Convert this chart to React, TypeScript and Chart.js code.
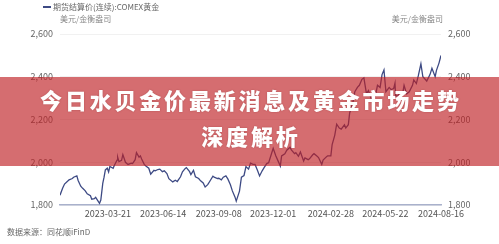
import React, { useEffect, useRef } from "react";
import { Chart, registerables } from "chart.js";

Chart.register(...registerables);

// COMEX gold, continuous settlement price (USD / troy ounce)
const dates: string[] = [
  "2023-01-06", "2023-01-10", "2023-01-13", "2023-01-18", "2023-01-20", "2023-01-25", "2023-01-27",
  "2023-02-01", "2023-02-03", "2023-02-07", "2023-02-10", "2023-02-14", "2023-02-17", "2023-02-22",
  "2023-02-24", "2023-02-28", "2023-03-02", "2023-03-08", "2023-03-10", "2023-03-13", "2023-03-15",
  "2023-03-17", "2023-03-20", "2023-03-22", "2023-03-24", "2023-03-29", "2023-03-31", "2023-04-04",
  "2023-04-05", "2023-04-07", "2023-04-11", "2023-04-13", "2023-04-17", "2023-04-21", "2023-04-26",
  "2023-04-28", "2023-05-02", "2023-05-04", "2023-05-08", "2023-05-10", "2023-05-12", "2023-05-16",
  "2023-05-19", "2023-05-23", "2023-05-26", "2023-05-31", "2023-06-02", "2023-06-06", "2023-06-09",
  "2023-06-13", "2023-06-16", "2023-06-20", "2023-06-23", "2023-06-29", "2023-07-03", "2023-07-06",
  "2023-07-11", "2023-07-14", "2023-07-18", "2023-07-20", "2023-07-25", "2023-07-27", "2023-07-31",
  "2023-08-03", "2023-08-08", "2023-08-11", "2023-08-15", "2023-08-18", "2023-08-22", "2023-08-25",
  "2023-08-30", "2023-09-01", "2023-09-06", "2023-09-08", "2023-09-12", "2023-09-15", "2023-09-19",
  "2023-09-22", "2023-09-26", "2023-09-29", "2023-10-03", "2023-10-05", "2023-10-10", "2023-10-13",
  "2023-10-17", "2023-10-20", "2023-10-24", "2023-10-27", "2023-10-31", "2023-11-03", "2023-11-07",
  "2023-11-10", "2023-11-14", "2023-11-17", "2023-11-21", "2023-11-24", "2023-11-28", "2023-12-01",
  "2023-12-05", "2023-12-08", "2023-12-12", "2023-12-14", "2023-12-19", "2023-12-22", "2023-12-27",
  "2023-12-29", "2024-01-03", "2024-01-05", "2024-01-09", "2024-01-12", "2024-01-17", "2024-01-19",
  "2024-01-24", "2024-01-26", "2024-01-31", "2024-02-02", "2024-02-06", "2024-02-09", "2024-02-14",
  "2024-02-16", "2024-02-21", "2024-02-23", "2024-02-28", "2024-03-01", "2024-03-05", "2024-03-08",
  "2024-03-12", "2024-03-15", "2024-03-20", "2024-03-22", "2024-03-26", "2024-03-28", "2024-04-02",
  "2024-04-05", "2024-04-09", "2024-04-12", "2024-04-16", "2024-04-19", "2024-04-23", "2024-04-26",
  "2024-04-30", "2024-05-03", "2024-05-07", "2024-05-10", "2024-05-14", "2024-05-17", "2024-05-20",
  "2024-05-23", "2024-05-28", "2024-05-31", "2024-06-04", "2024-06-06", "2024-06-07", "2024-06-11",
  "2024-06-14", "2024-06-18", "2024-06-20", "2024-06-24", "2024-06-28", "2024-07-03", "2024-07-05",
  "2024-07-09", "2024-07-12", "2024-07-16", "2024-07-19", "2024-07-25", "2024-07-30", "2024-08-02",
  "2024-08-07", "2024-08-09", "2024-08-13", "2024-08-16",
];

const prices: number[] = [
  1846, 1878, 1898, 1912, 1918, 1924, 1930,
  1936, 1915, 1888, 1878, 1866, 1852, 1843,
  1827, 1830, 1836, 1808, 1823, 1901, 1930,
  1964, 1972, 1955, 1980, 1972, 1986, 2010,
  2024, 2003, 2009, 2036, 2000, 1990, 1996,
  1994, 2012, 2045, 2024, 2030, 2015, 1990,
  1981, 1972, 1944, 1962, 1960, 1966, 1968,
  1956, 1960, 1947, 1923, 1908, 1916, 1910,
  1932, 1955, 1970, 1975, 1956, 1942, 1962,
  1932, 1924, 1913, 1903, 1884, 1895, 1910,
  1935, 1930, 1924, 1925, 1918, 1930, 1936,
  1922, 1895, 1866, 1838, 1818, 1865, 1930,
  1938, 1980, 1968, 1996, 1990, 1990, 1960,
  1936, 1960, 1975, 1994, 1998, 2036, 2065,
  2030, 2010, 1982, 2030, 2040, 2056, 2070,
  2058, 2040, 2045, 2028, 2048, 2006, 2020,
  2012, 2016, 2035, 2040, 2030, 2022, 1990,
  2010, 2025, 2030, 2030, 2083, 2126, 2178,
  2160, 2155, 2175, 2160, 2176, 2230, 2280,
  2330, 2350, 2360, 2388, 2395, 2320, 2335,
  2300, 2298, 2315, 2360, 2350, 2410, 2432,
  2330, 2350, 2340, 2345, 2370, 2310, 2312,
  2330, 2325, 2360, 2320, 2330, 2360, 2385,
  2368, 2405, 2460, 2400, 2380, 2410, 2440,
  2400, 2430, 2465, 2500,
];

const xTickDates: string[] = [
  "2023-03-21", "2023-06-14", "2023-09-08", "2023-12-01", "2024-02-28", "2024-05-22", "2024-08-16",
];

const yTicks: number[] = [1800, 2000, 2200, 2400, 2600];

const seriesName = "期货结算价(连续):COMEX黄金";
const unitLabel = "美元/金衡盎司";
const sourceLabel = "数据来源：同花顺iFinD";
const headline = ["今日水贝金价最新消息及黄金市场走势", "深度解析"];

const DAY = 86400000;
const toDay = (s: string) => Date.parse(s + "T00:00:00Z") / DAY;
const fromDay = (v: number) => new Date(Math.round(v) * DAY).toISOString().slice(0, 10);

const FONT = "'Noto Sans CJK SC', 'Noto Sans', sans-serif";
const LINE = "#3d4a84";

export default function App() {
  const canvasRef = useRef<HTMLCanvasElement | null>(null);

  useEffect(() => {
    if (!canvasRef.current) return;
    const points = dates.map((d, i) => ({ x: toDay(d), y: prices[i] }));
    const yTickCfg = {
      font: { family: FONT, size: 9 },
      color: "#666",
      padding: 7,
      callback: (v: number) => v.toLocaleString("en-US"),
    };
    const chart = new Chart(canvasRef.current, {
      type: "line",
      data: {
        datasets: [
          {
            label: seriesName,
            data: points,
            borderColor: LINE,
            borderWidth: 1.3,
            pointRadius: 0,
            tension: 0,
            yAxisID: "y",
          },
        ],
      },
      options: {
        animation: false,
        responsive: false,
        devicePixelRatio: 1,
        layout: { padding: { top: 34, left: 0, right: 0, bottom: 0 } },
        plugins: { legend: { display: false }, tooltip: { enabled: false } },
        scales: {
          x: {
            type: "linear",
            min: toDay(dates[0]),
            max: toDay(dates[dates.length - 1]),
            grid: { display: false, drawTicks: false },
            border: { display: true, color: "#a9b1cc", width: 1.5 },
            afterBuildTicks: (scale: any) => {
              scale.ticks = xTickDates.map((d) => ({ value: toDay(d) }));
            },
            afterFit: (scale: any) => {
              scale.height = 39;
            },
            ticks: {
              autoSkip: false,
              maxRotation: 0,
              padding: 3,
              font: { family: FONT, size: 9 },
              color: "#555",
              callback: (v: number) => fromDay(v),
            },
          },
          y: {
            position: "left",
            min: 1800,
            max: 2600,
            afterBuildTicks: (scale: any) => {
              scale.ticks = yTicks.map((v) => ({ value: v }));
            },
            afterFit: (scale: any) => {
              scale.width = 60;
            },
            grid: { color: "#f1f1f1", drawTicks: false },
            border: { display: false },
            ticks: yTickCfg,
          },
          y2: {
            position: "right",
            min: 1800,
            max: 2600,
            afterBuildTicks: (scale: any) => {
              scale.ticks = yTicks.map((v) => ({ value: v }));
            },
            afterFit: (scale: any) => {
              scale.width = 58;
            },
            grid: { display: false, drawTicks: false },
            border: { display: false },
            ticks: yTickCfg,
          },
        },
      } as any,
    });
    return () => chart.destroy();
  }, []);

  const small: React.CSSProperties = {
    position: "absolute",
    fontFamily: FONT,
    fontSize: 8,
    lineHeight: "10px",
    color: "#777",
    whiteSpace: "nowrap",
  };

  return (
    <div
      style={{
        position: "absolute",
        left: 0,
        top: 0,
        width: 499,
        height: 244,
        background: "#fff",
        overflow: "hidden",
      }}
    >
      <canvas ref={canvasRef} width={499} height={244} style={{ position: "absolute", left: 0, top: 0 }} />
      <div style={{ position: "absolute", left: 43, top: 6, width: 8, height: 2, background: LINE }} />
      <div style={{ ...small, left: 53, top: 2, color: "#666" }}>{seriesName}</div>
      <div style={{ ...small, left: 60, top: 14, color: "#888" }}>{unitLabel}</div>
      <div style={{ ...small, right: 56, top: 14, color: "#888" }}>{unitLabel}</div>
      <div style={{ ...small, left: 7, top: 227, color: "#666" }}>{sourceLabel}</div>
      <div
        style={{
          position: "absolute",
          left: 0,
          top: 77,
          width: 499,
          height: 89,
          background: "rgba(190, 30, 35, 0.65)",
        }}
      >
        {headline.map((t, i) => (
          <div
            key={i}
            style={{
              position: "absolute",
              left: 0,
              width: 499,
              top: i === 0 ? 8 : 44,
              height: 28,
              lineHeight: "28px",
              textAlign: "center",
              color: "#fff",
              fontFamily: FONT,
              fontWeight: 900,
              fontSize: 22,
              letterSpacing: "2.8px",
              textIndent: "2.8px",
              textShadow: "0 0 2px rgba(90,0,0,0.3)",
            }}
          >
            {t}
          </div>
        ))}
      </div>
    </div>
  );
}
